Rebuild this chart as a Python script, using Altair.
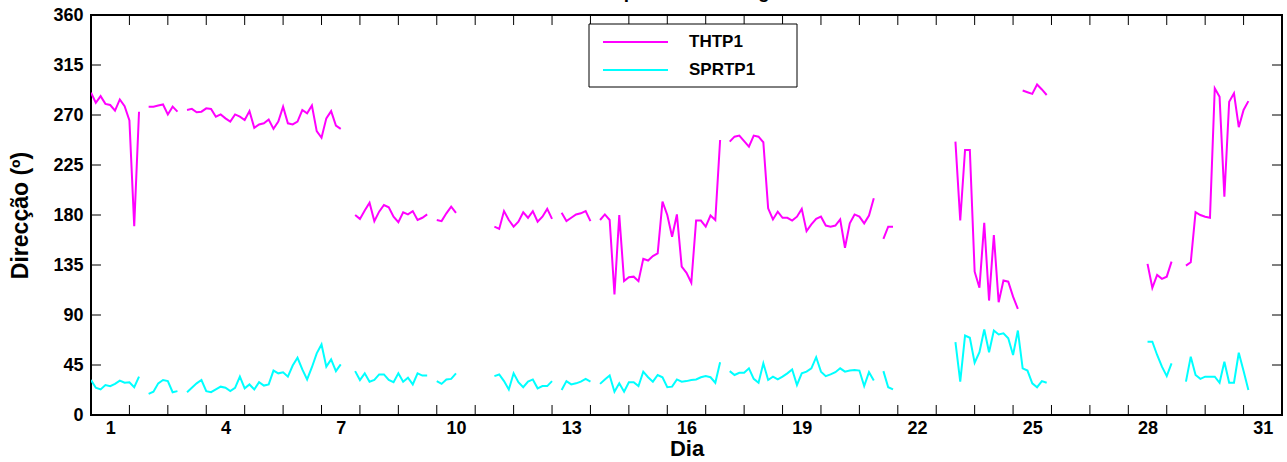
import altair as alt
import pandas as pd

# ---------------- data (3-hourly, t in days from start of day 1) ----------------
STEP = 1.0 / 8.0
# THTP1 segments: start index (t = index/8) and values
th_start = [0, 12, 20, 55, 72, 84, 98, 106, 133, 165, 180, 194, 220, 228]
thtp1 = [
    [290, 281, 287, 280, 279, 274, 284, 278, 265, 170, 273],
    [277.5, 277.5, 278.5, 279.5, 270.5, 277.5, 273],
    [274.5, 275.5, 272.5, 273, 276, 275.5, 268.5, 270.5, 267, 264, 270.5, 268.5, 265.5, 273.5,
     258.5, 261.5, 262.5, 266, 257.5, 264, 277.5, 262.5, 261.5, 264, 274.5, 271.5, 278.5, 255.5,
     249.5, 267, 273.5, 260.5, 257.5],
    [180, 176.5, 184, 191, 174.5, 183, 189, 187, 178.5, 173.5, 182.5, 180.5, 183.5, 175.5, 177.5, 180.5],
    [175.5, 174.5, 181.5, 187.5, 182],
    [169.5, 167.5, 183.5, 175.5, 169.5, 174, 182.5, 177.5, 183.5, 174, 178.5, 185.5, 176.5],
    [182, 174.5, 177.5, 180.5, 181.5, 183.5, 174.5],
    [175.5, 180.5, 175.5, 108.5, 180, 120.5, 124, 124.5, 120.5, 140.5, 139, 143, 145.5, 192, 180,
     160.5, 180.5, 133.5, 128, 119, 175, 175, 169.5, 179.5, 175.5, 247.5],
    [246, 250.5, 251.5, 246.5, 241.5, 251.5, 250.5, 245.5, 186, 176, 183, 177.5, 177.5, 175, 178.5,
     185.5, 165.5, 171.5, 176.5, 178.5, 170.5, 169.5, 170.5, 176, 150.5, 172.5, 180.5, 178.5, 172.5,
     179.5, 195],
    [158.5, 169.5, 169.5],
    [246, 175, 238.5, 238.5, 129, 114.5, 173, 103, 162, 101.5, 121, 120, 106.5, 95.5],
    [292, 290.5, 289, 297.5, 293, 288],
    [136, 114.5, 126, 122.5, 124.5, 138],
    [134.5, 137.5, 182.5, 180, 178.5, 177.5, 294, 286.5, 196.5, 282, 289.5, 259, 274.5, 282.5],
]
# SPRTP1 segments
sp_start = [0, 12, 20, 55, 72, 84, 98, 106, 133, 165, 180, 220, 228]
sprtp1 = [
    [31.5, 24.5, 23, 27, 26, 28, 31, 29, 29.5, 25, 34.5],
    [19, 21, 28.5, 31.5, 30.5, 20.5, 21.5],
    [20.5, 24.5, 28.5, 31.5, 21.5, 20.5, 23, 25.5, 24.5, 21.5, 24.5, 34.5, 24, 27.5, 23, 29.5,
     26.5, 27.5, 40, 37.5, 38.5, 34.5, 44.5, 51.5, 41, 32, 43, 55.5, 63.5, 43.5, 50, 39.5, 45.5],
    [39.5, 31.5, 37.5, 30, 31.5, 36.5, 36.5, 31.5, 29.5, 37.5, 30, 33.5, 27.5, 37.5, 35.5, 35.5],
    [30.5, 28, 32, 32.5, 37.5],
    [35, 36.5, 30.5, 23, 37.5, 29.5, 25, 30, 32, 24, 26, 26, 30.5],
    [22.5, 30.5, 27.5, 28.5, 30, 32.5, 30],
    [28, 32, 35.5, 21, 28.5, 21, 29.5, 29.5, 26, 39, 34, 30, 36, 34, 25, 25.5, 32, 30, 30.5, 31.5,
     32, 34, 35, 34, 29, 47.5],
    [39.5, 36, 38, 38, 42, 32.5, 29, 46.5, 31.5, 34.5, 32, 34.5, 37.5, 41, 27, 37.5, 39, 42, 52,
     39, 35, 36.5, 38.5, 42, 39, 40, 40.5, 40, 26, 38.5, 31],
    [39.5, 25, 23],
    [65.5, 30, 71.5, 69.5, 47, 56.5, 77, 56.5, 76, 72.5, 73.5, 69, 54, 76,
     42, 40, 28.5, 25, 30.5, 29],
    [66, 66, 54, 43.5, 35, 46.5],
    [30, 52.5, 36, 32.5, 34.5, 34.5, 34.5, 29, 48, 29, 29, 56, 39.5, 22.5],
]
series_names = ["THTP1", "SPRTP1"]
series_colors = ["#ff00ff", "#00ffff"]
x_label_days = [1, 4, 7, 10, 13, 16, 19, 22, 25, 28, 31]
y_ticks = [0, 45, 90, 135, 180, 225, 270, 315, 360]
n_days = 31

rows = []
for name, starts, segs in (("THTP1", th_start, thtp1), ("SPRTP1", sp_start, sprtp1)):
    for k, s0 in enumerate(starts):
        for j, v in enumerate(segs[k]):
            rows.append({"t": (s0 + j) * STEP, "v": v, "serie": name, "seg": f"{name}-{k}"})
df = pd.DataFrame(rows)

W, H = 1191, 400
FONT = "Liberation Sans"

xscale = alt.Scale(domain=[0, n_days], nice=False, zero=False)
yscale = alt.Scale(domain=[0, 360], nice=False, zero=True)

lines = alt.Chart(df).mark_line(strokeWidth=2, clip=True).encode(
    x=alt.X("t:Q", scale=xscale,
            axis=alt.Axis(values=[d - 0.5 for d in x_label_days],
                          labelExpr="format(datum.value + 0.5, 'd')",
                          ticks=False, domain=False, grid=False,
                          labelFont=FONT, labelFontSize=18, labelFontWeight="bold",
                          labelColor="black", labelPadding=4,
                          title="Dia", titleFont=FONT, titleFontSize=22,
                          titleFontWeight="bold", titleColor="black", titlePadding=1)),
    y=alt.Y("v:Q", scale=yscale,
            axis=alt.Axis(values=y_ticks, ticks=False, domain=False, grid=False,
                          labelFont=FONT, labelFontSize=18, labelFontWeight="bold",
                          labelColor="black", labelPadding=8,
                          title="Direcção (º)", titleFont=FONT, titleFontSize=23,
                          titleFontWeight="bold", titleColor="black", titlePadding=20)),
    color=alt.Color("serie:N", scale=alt.Scale(domain=series_names, range=series_colors), legend=None),
    detail="seg:N",
)

ytick_df = pd.DataFrame({"v": y_ticks})
xtick_df = pd.DataFrame({"t": list(range(0, n_days + 1))})
tick_len = 10
ytl = alt.Chart(ytick_df).mark_rule(color="black", strokeWidth=1).encode(
    y=alt.Y("v:Q", scale=yscale), x=alt.value(0), x2=alt.value(tick_len))
ytr = alt.Chart(ytick_df).mark_rule(color="black", strokeWidth=1).encode(
    y=alt.Y("v:Q", scale=yscale), x=alt.value(W - tick_len), x2=alt.value(W))
xtb = alt.Chart(xtick_df).mark_rule(color="black", strokeWidth=1).encode(
    x=alt.X("t:Q", scale=xscale), y=alt.value(H - tick_len), y2=alt.value(H))
xtt = alt.Chart(xtick_df).mark_rule(color="black", strokeWidth=1).encode(
    x=alt.X("t:Q", scale=xscale), y=alt.value(0), y2=alt.value(tick_len))

# legend (drawn inside the plot area, top centre)
leg_df = pd.DataFrame({"serie": series_names, "row": [0, 1]})
LX0, LX1, LY0, LY1 = 498, 706, 9, 72
row_y = [27, 55]
leg_box = alt.Chart(pd.DataFrame({"a": [0]})).mark_rect(
    fill="white", stroke="black", strokeWidth=1).encode(
    x=alt.value(LX0), x2=alt.value(LX1), y=alt.value(LY0), y2=alt.value(LY1))
leg_lines = [
    alt.Chart(leg_df[leg_df.row == i]).mark_rule(strokeWidth=2, color=series_colors[i]).encode(
        x=alt.value(512), x2=alt.value(577), y=alt.value(row_y[i]))
    for i in range(2)
]
leg_text = [
    alt.Chart(leg_df[leg_df.row == i]).mark_text(
        align="left", baseline="middle", font=FONT, fontSize=17, fontWeight="bold", color="black").encode(
        x=alt.value(598), y=alt.value(row_y[i]), text="serie:N")
    for i in range(2)
]

chart = alt.layer(lines, ytl, ytr, xtb, xtt, leg_box, *leg_lines, *leg_text).properties(
    width=W, height=H,
    title=alt.TitleParams("Espalhamento angular", font=FONT, fontSize=19, fontWeight="bold",
                          color="black", offset=4, dx=16),
    autosize=alt.AutoSizeParams(type="none"),
    padding={"left": 91, "top": 15, "right": 5, "bottom": 47},
).configure_view(stroke="black", strokeWidth=2)

chart.save("out.html", embed_options={"renderer": "svg", "actions": False})
